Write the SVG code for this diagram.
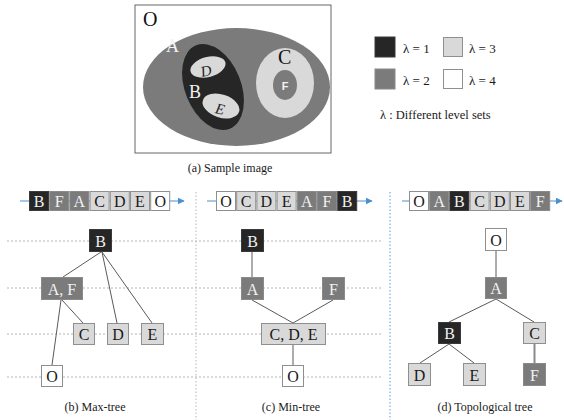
<svg xmlns="http://www.w3.org/2000/svg" width="564" height="420" viewBox="0 0 564 420" font-family="'Liberation Serif', 'Times New Roman', serif">
  <style>
    text { font-family: "Liberation Serif", "Times New Roman", serif; }
    .lv1 { fill: #262626; stroke: #3a3a3a; stroke-width: 1; }
    .lv2 { fill: #7b7b7b; stroke: #8a8a8a; stroke-width: 1; }
    .lv3 { fill: #d9d9d9; stroke: #8f8f8f; stroke-width: 1; }
    .lv4 { fill: #ffffff; stroke: #8f8f8f; stroke-width: 1; }
    .tl { fill: #f2f2f2; font-size: 16px; text-anchor: middle; }
    .td { fill: #1a1a1a; font-size: 16px; text-anchor: middle; }
    .edge { stroke: #5a5a5a; stroke-width: 1; fill: none; }
    .grid { stroke: #b5b5b5; stroke-width: 1; stroke-dasharray: 2 2; fill: none; }
    .seq { stroke: #4a90d0; stroke-width: 1.2; fill: none; }
    .cap { fill: #1a1a1a; font-size: 12px; text-anchor: middle; }
    .leg { fill: #1a1a1a; font-size: 13px; }
    .sans { font-family: "Liberation Sans", Arial, sans-serif; }
  </style>
  <defs>
    <marker id="arrow" viewBox="0 0 10 10" refX="9" refY="5" markerWidth="7" markerHeight="7" markerUnits="userSpaceOnUse" orient="auto">
      <path d="M0,0 L10,5 L0,10 z" fill="#4a90d0"/>
    </marker>
  </defs>

  <rect width="564" height="420" fill="#ffffff"/>

  <!-- (a) sample image -->
  <g id="sample-image">
    <rect x="135" y="5" width="196" height="148" fill="#ffffff" stroke="#666" stroke-width="1"/>
    <ellipse cx="236.5" cy="87" rx="93.5" ry="59" fill="#7b7b7b"/>
    <ellipse cx="213" cy="87" rx="28" ry="45" transform="rotate(-22 213 87)" fill="#262626"/>
    <ellipse cx="208" cy="67" rx="18" ry="10" transform="rotate(-15 208 67)" fill="#d9d9d9"/>
    <ellipse cx="221" cy="106" rx="19" ry="11.5" transform="rotate(18 221 106)" fill="#d9d9d9"/>
    <ellipse cx="285" cy="83" rx="29" ry="35" fill="#d9d9d9"/>
    <ellipse cx="285" cy="85" rx="12" ry="15" fill="#7b7b7b"/>
    <text x="143" y="26" font-size="20" fill="#111">O</text>
    <text x="166" y="52" font-size="18" fill="#f2f2f2">A</text>
    <text x="189" y="98" font-size="18" fill="#f2f2f2">B</text>
    <text x="278" y="64" font-size="20" fill="#111">C</text>
    <text x="206" y="76" font-size="15" font-style="italic" fill="#222" text-anchor="middle" transform="rotate(-12 206 71)">D</text>
    <text x="220" y="114" font-size="15" font-style="italic" fill="#222" text-anchor="middle" transform="rotate(12 220 109)">E</text>
    <text x="285" y="90" font-size="11" font-weight="bold" fill="#f2f2f2" text-anchor="middle" class="sans">F</text>
    <text x="230" y="172" class="cap">(a)  Sample image</text>
  </g>

  <!-- legend -->
  <g id="legend">
    <rect x="375" y="37" width="20" height="20" class="lv1"/>
    <text x="403" y="53" class="leg">λ = 1</text>
    <rect x="443.5" y="37.5" width="19" height="19" class="lv3"/>
    <text x="469" y="53" class="leg">λ = 3</text>
    <rect x="375" y="69" width="20" height="20" class="lv2"/>
    <text x="403" y="85" class="leg">λ = 2</text>
    <rect x="443.5" y="69.5" width="19" height="19" class="lv4"/>
    <text x="469" y="85" class="leg">λ = 4</text>
    <text x="380" y="119" font-size="12.5" fill="#1a1a1a">λ : Different level sets</text>
  </g>

  <!-- level guides and panel separators -->
  <g id="guides">
    <line x1="7" y1="241" x2="382" y2="241" class="grid"/>
    <line x1="7" y1="288" x2="382" y2="288" class="grid"/>
    <line x1="7" y1="334" x2="382" y2="334" class="grid"/>
    <line x1="7" y1="377" x2="382" y2="377" class="grid"/>
    <line x1="196" y1="192" x2="196" y2="420" stroke="#b5b5b5" stroke-width="1" stroke-dasharray="1.5 2"/>
    <line x1="390" y1="192" x2="390" y2="420" stroke="#5b9bd5" stroke-width="1" stroke-dasharray="1.5 2"/>
  </g>

  <!-- connectors -->
  <g id="connectors">
    <line x1="20" y1="201" x2="184" y2="201" class="seq" marker-end="url(#arrow)"/>
    <line x1="207" y1="201" x2="372" y2="201" class="seq" marker-end="url(#arrow)"/>
    <line x1="402" y1="201" x2="562" y2="201" class="seq" marker-end="url(#arrow)"/>

    <!-- max-tree -->
    <line x1="101" y1="252" x2="63" y2="277" class="edge"/>
    <line x1="102" y1="252" x2="117" y2="323" class="edge"/>
    <line x1="102" y1="252" x2="152" y2="323" class="edge"/>
    <line x1="62" y1="300" x2="83" y2="323" class="edge"/>
    <line x1="61" y1="300" x2="52" y2="365" class="edge"/>

    <!-- min-tree -->
    <line x1="252" y1="252" x2="252" y2="277" class="edge"/>
    <line x1="252" y1="300" x2="293" y2="323" class="edge"/>
    <line x1="333" y1="300" x2="293" y2="323" class="edge"/>
    <line x1="293" y1="345" x2="293" y2="365" class="edge"/>

    <!-- topological tree -->
    <line x1="496" y1="251" x2="496" y2="277" class="edge"/>
    <line x1="496" y1="299" x2="449" y2="322" class="edge"/>
    <line x1="496" y1="299" x2="534" y2="322" class="edge"/>
    <line x1="449" y1="344" x2="420" y2="363" class="edge"/>
    <line x1="449" y1="344" x2="474" y2="363" class="edge"/>
    <line x1="534.5" y1="344" x2="534.5" y2="363" stroke="#8a8a8a" stroke-width="2"/>
  </g>

  <!-- (b) max-tree order -->
  <g id="seq-max">
    <rect x="29.5" y="191.5" width="19" height="19" class="lv1"/><text x="39" y="207" class="tl">B</text>
    <rect x="49.7" y="191.5" width="19" height="19" class="lv2"/><text x="59.2" y="207" class="tl">F</text>
    <rect x="69.9" y="191.5" width="19" height="19" class="lv2"/><text x="79.4" y="207" class="tl">A</text>
    <rect x="90.1" y="191.5" width="19" height="19" class="lv3"/><text x="99.6" y="207" class="td">C</text>
    <rect x="110.3" y="191.5" width="19" height="19" class="lv3"/><text x="119.8" y="207" class="td">D</text>
    <rect x="130.5" y="191.5" width="19" height="19" class="lv3"/><text x="140" y="207" class="td">E</text>
    <rect x="150.7" y="191.5" width="19" height="19" class="lv4"/><text x="160.2" y="207" class="td">O</text>
  </g>

  <!-- (c) min-tree order -->
  <g id="seq-min">
    <rect x="216.5" y="191.5" width="19" height="19" class="lv4"/><text x="226" y="207" class="td">O</text>
    <rect x="236.7" y="191.5" width="19" height="19" class="lv3"/><text x="246.2" y="207" class="td">C</text>
    <rect x="256.9" y="191.5" width="19" height="19" class="lv3"/><text x="266.4" y="207" class="td">D</text>
    <rect x="277.1" y="191.5" width="19" height="19" class="lv3"/><text x="286.6" y="207" class="td">E</text>
    <rect x="297.3" y="191.5" width="19" height="19" class="lv2"/><text x="306.8" y="207" class="tl">A</text>
    <rect x="317.5" y="191.5" width="19" height="19" class="lv2"/><text x="327" y="207" class="tl">F</text>
    <rect x="337.7" y="191.5" width="19" height="19" class="lv1"/><text x="347.2" y="207" class="tl">B</text>
  </g>

  <!-- (d) topological order -->
  <g id="seq-topo">
    <rect x="409.5" y="191.5" width="19" height="19" class="lv4"/><text x="419" y="207" class="td">O</text>
    <rect x="429.7" y="191.5" width="19" height="19" class="lv2"/><text x="439.2" y="207" class="tl">A</text>
    <rect x="449.9" y="191.5" width="19" height="19" class="lv1"/><text x="459.4" y="207" class="tl">B</text>
    <rect x="470.1" y="191.5" width="19" height="19" class="lv3"/><text x="479.6" y="207" class="td">C</text>
    <rect x="490.3" y="191.5" width="19" height="19" class="lv3"/><text x="499.8" y="207" class="td">D</text>
    <rect x="510.5" y="191.5" width="19" height="19" class="lv3"/><text x="520" y="207" class="td">E</text>
    <rect x="530.7" y="191.5" width="19" height="19" class="lv2"/><text x="540.2" y="207" class="tl">F</text>
  </g>

  <!-- (b) max-tree nodes -->
  <g id="max-B"><rect x="89.5" y="229.5" width="22" height="22" class="lv1"/><text x="100.5" y="246.5" class="tl">B</text></g>
  <g id="max-AF"><rect x="41.5" y="277.5" width="41" height="22" class="lv2"/><text x="62" y="294.5" class="tl">A, F</text></g>
  <g id="max-C"><rect x="73.5" y="323.5" width="21" height="21" class="lv3"/><text x="84" y="340" class="td">C</text></g>
  <g id="max-D"><rect x="107.5" y="323.5" width="21" height="21" class="lv3"/><text x="118" y="340" class="td">D</text></g>
  <g id="max-E"><rect x="141.5" y="323.5" width="22" height="21" class="lv3"/><text x="152.5" y="340" class="td">E</text></g>
  <g id="max-O"><rect x="41.5" y="365.5" width="21" height="21" class="lv4"/><text x="52" y="382" class="td">O</text></g>
  <text x="95" y="411" class="cap">(b) Max-tree</text>

  <!-- (c) min-tree nodes -->
  <g id="min-B"><rect x="241.5" y="229.5" width="22" height="22" class="lv1"/><text x="252.5" y="246.5" class="tl">B</text></g>
  <g id="min-A"><rect x="241.5" y="277.5" width="22" height="22" class="lv2"/><text x="252.5" y="294.5" class="tl">A</text></g>
  <g id="min-F"><rect x="322.5" y="277.5" width="22" height="22" class="lv2"/><text x="333.5" y="294.5" class="tl">F</text></g>
  <g id="min-CDE"><rect x="261.5" y="323.5" width="64" height="21" class="lv3"/><text x="293.5" y="340" class="td">C, D, E</text></g>
  <g id="min-O"><rect x="282.5" y="365.5" width="21" height="21" class="lv4"/><text x="293" y="382" class="td">O</text></g>
  <text x="291" y="411" class="cap">(c) Min-tree</text>

  <!-- (d) topological tree nodes -->
  <g id="topo-O"><rect x="485.5" y="228.5" width="21" height="22" class="lv4"/><text x="496" y="245.5" class="td">O</text></g>
  <g id="topo-A"><rect x="485.5" y="277.5" width="21" height="21" class="lv2"/><text x="496" y="294" class="tl">A</text></g>
  <g id="topo-B"><rect x="438.5" y="322.5" width="22" height="21" class="lv1"/><text x="449.5" y="339" class="tl">B</text></g>
  <g id="topo-C"><rect x="523.5" y="322.5" width="22" height="21" class="lv3"/><text x="534.5" y="339" class="td">C</text></g>
  <g id="topo-D"><rect x="408.5" y="363.5" width="22" height="22" class="lv3"/><text x="419.5" y="380.5" class="td">D</text></g>
  <g id="topo-E"><rect x="463.5" y="363.5" width="22" height="22" class="lv3"/><text x="474.5" y="380.5" class="td">E</text></g>
  <g id="topo-F"><rect x="523.5" y="363.5" width="22" height="22" class="lv2"/><text x="534.5" y="380.5" class="tl">F</text></g>
  <text x="485" y="411" class="cap">(d) Topological tree</text>
</svg>
